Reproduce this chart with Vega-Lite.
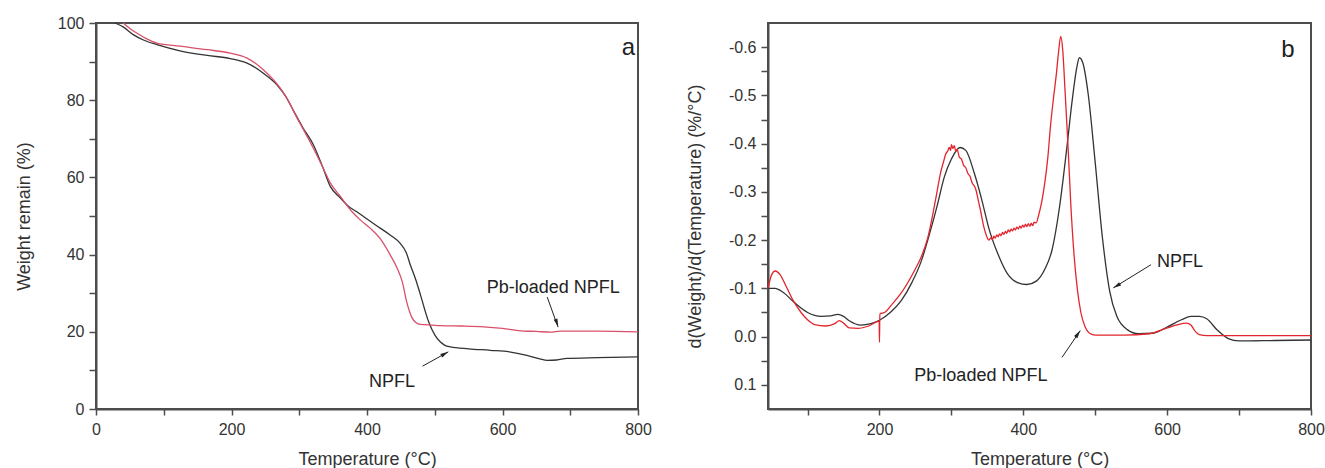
{
  "$schema": "https://vega.github.io/schema/vega-lite/v6.json",
  "padding": {"left": 14, "top": 14, "right": 0, "bottom": 0},
  "spacing": 32,
  "config": {
    "font": "Liberation Sans",
    "view": {"stroke": "#4d4d4d", "strokeWidth": 2},
    "axis": {"grid": false, "domainColor": "#4d4d4d", "domainWidth": 2, "tickColor": "#4d4d4d", "tickWidth": 1.5, "tickSize": 6, "labelFontSize": 16, "labelColor": "#333333", "titleFontSize": 18, "titleFontWeight": "normal", "titleColor": "#333333", "labelFlush": false, "labelOverlap": false, "labelPadding": 6},
    "axisY": {"tickSize": 7, "titlePadding": 24, "labelPadding": 5},
    "axisX": {"titlePadding": 13}
  },
  "datasets": {
    "tga_npfl": [
      {"temperature": 28, "value": 100}, {"temperature": 40, "value": 99.0}, {"temperature": 55, "value": 97.0}, {"temperature": 70, "value": 95.6}, {"temperature": 90, "value": 94.4}, {"temperature": 124, "value": 92.8}, {"temperature": 164, "value": 91.6}, {"temperature": 198, "value": 90.8}, {"temperature": 223, "value": 89.6}, {"temperature": 247, "value": 87.0}, {"temperature": 267, "value": 84.0}, {"temperature": 280, "value": 81.0}, {"temperature": 292, "value": 77.1}, {"temperature": 305, "value": 73.0}, {"temperature": 321, "value": 68.4}, {"temperature": 335, "value": 62.5}, {"temperature": 346, "value": 57.6}, {"temperature": 360, "value": 54.8}, {"temperature": 372, "value": 52.6}, {"temperature": 385, "value": 51.1}, {"temperature": 400, "value": 49.2}, {"temperature": 420, "value": 46.8}, {"temperature": 434, "value": 45.1}, {"temperature": 449, "value": 42.9}, {"temperature": 458, "value": 40.5}, {"temperature": 464, "value": 37.3}, {"temperature": 472, "value": 33.5}, {"temperature": 479, "value": 29.5}, {"temperature": 491, "value": 22.6}, {"temperature": 500, "value": 19.2}, {"temperature": 508, "value": 17.4}, {"temperature": 515, "value": 16.5}, {"temperature": 523, "value": 16.1}, {"temperature": 550, "value": 15.6}, {"temperature": 582, "value": 15.2}, {"temperature": 610, "value": 14.8}, {"temperature": 636, "value": 13.9}, {"temperature": 655, "value": 13.0}, {"temperature": 666, "value": 12.6}, {"temperature": 680, "value": 12.7}, {"temperature": 695, "value": 13.1}, {"temperature": 740, "value": 13.3}, {"temperature": 800, "value": 13.5}
    ],
    "tga_pb": [
      {"temperature": 40, "value": 100}, {"temperature": 50, "value": 98.6}, {"temperature": 60, "value": 97.4}, {"temperature": 75, "value": 95.9}, {"temperature": 90, "value": 94.8}, {"temperature": 124, "value": 94.0}, {"temperature": 164, "value": 93.1}, {"temperature": 198, "value": 92.2}, {"temperature": 223, "value": 90.9}, {"temperature": 247, "value": 87.9}, {"temperature": 272, "value": 83.1}, {"temperature": 285, "value": 79.5}, {"temperature": 295, "value": 76.0}, {"temperature": 308, "value": 71.8}, {"temperature": 321, "value": 67.5}, {"temperature": 335, "value": 62.5}, {"temperature": 346, "value": 58.5}, {"temperature": 361, "value": 55.0}, {"temperature": 378, "value": 51.1}, {"temperature": 390, "value": 49.0}, {"temperature": 405, "value": 46.8}, {"temperature": 420, "value": 44.0}, {"temperature": 434, "value": 40.0}, {"temperature": 445, "value": 36.3}, {"temperature": 452, "value": 33.0}, {"temperature": 459, "value": 27.5}, {"temperature": 466, "value": 23.8}, {"temperature": 472, "value": 22.4}, {"temperature": 479, "value": 21.9}, {"temperature": 508, "value": 21.6}, {"temperature": 540, "value": 21.5}, {"temperature": 572, "value": 21.3}, {"temperature": 600, "value": 20.9}, {"temperature": 631, "value": 20.2}, {"temperature": 650, "value": 20.1}, {"temperature": 671, "value": 19.9}, {"temperature": 685, "value": 20.2}, {"temperature": 740, "value": 20.2}, {"temperature": 800, "value": 20.0}
    ],
    "dtg_npfl": [
      {"temperature": 45, "value": -0.100}, {"temperature": 55, "value": -0.100}, {"temperature": 65, "value": -0.093}, {"temperature": 82, "value": -0.070}, {"temperature": 100, "value": -0.050}, {"temperature": 119, "value": -0.042}, {"temperature": 132, "value": -0.043}, {"temperature": 142, "value": -0.046}, {"temperature": 150, "value": -0.042}, {"temperature": 158, "value": -0.033}, {"temperature": 174, "value": -0.024}, {"temperature": 188, "value": -0.027}, {"temperature": 200, "value": -0.034}, {"temperature": 215, "value": -0.050}, {"temperature": 230, "value": -0.074}, {"temperature": 245, "value": -0.112}, {"temperature": 258, "value": -0.156}, {"temperature": 270, "value": -0.215}, {"temperature": 280, "value": -0.270}, {"temperature": 290, "value": -0.330}, {"temperature": 300, "value": -0.368}, {"temperature": 312, "value": -0.392}, {"temperature": 320, "value": -0.386}, {"temperature": 332, "value": -0.338}, {"temperature": 342, "value": -0.285}, {"temperature": 352, "value": -0.225}, {"temperature": 365, "value": -0.170}, {"temperature": 378, "value": -0.130}, {"temperature": 392, "value": -0.112}, {"temperature": 405, "value": -0.108}, {"temperature": 418, "value": -0.115}, {"temperature": 430, "value": -0.140}, {"temperature": 440, "value": -0.180}, {"temperature": 450, "value": -0.265}, {"temperature": 460, "value": -0.385}, {"temperature": 468, "value": -0.490}, {"temperature": 474, "value": -0.555}, {"temperature": 478, "value": -0.578}, {"temperature": 483, "value": -0.566}, {"temperature": 490, "value": -0.505}, {"temperature": 500, "value": -0.360}, {"temperature": 510, "value": -0.205}, {"temperature": 520, "value": -0.095}, {"temperature": 530, "value": -0.042}, {"temperature": 545, "value": -0.014}, {"temperature": 560, "value": -0.006}, {"temperature": 580, "value": -0.007}, {"temperature": 600, "value": -0.020}, {"temperature": 620, "value": -0.035}, {"temperature": 633, "value": -0.042}, {"temperature": 645, "value": -0.042}, {"temperature": 655, "value": -0.037}, {"temperature": 670, "value": -0.013}, {"temperature": 685, "value": 0.004}, {"temperature": 700, "value": 0.009}, {"temperature": 750, "value": 0.008}, {"temperature": 800, "value": 0.007}
    ],
    "dtg_pb": [
      {"temperature": 45, "value": -0.100}, {"temperature": 50, "value": -0.128}, {"temperature": 55, "value": -0.136}, {"temperature": 62, "value": -0.128}, {"temperature": 70, "value": -0.105}, {"temperature": 80, "value": -0.075}, {"temperature": 91, "value": -0.050}, {"temperature": 100, "value": -0.035}, {"temperature": 110, "value": -0.025}, {"temperature": 125, "value": -0.022}, {"temperature": 138, "value": -0.027}, {"temperature": 144, "value": -0.033}, {"temperature": 150, "value": -0.028}, {"temperature": 158, "value": -0.018}, {"temperature": 170, "value": -0.017}, {"temperature": 185, "value": -0.022}, {"temperature": 199.5, "value": -0.032}, {"temperature": 200, "value": 0.012}, {"temperature": 200.5, "value": -0.047}, {"temperature": 207, "value": -0.050}, {"temperature": 218, "value": -0.068}, {"temperature": 230, "value": -0.090}, {"temperature": 248, "value": -0.135}, {"temperature": 258, "value": -0.165}, {"temperature": 267, "value": -0.204}, {"temperature": 275, "value": -0.260}, {"temperature": 280, "value": -0.300}, {"temperature": 285, "value": -0.340}, {"temperature": 289, "value": -0.362}, {"temperature": 292, "value": -0.378}, {"temperature": 295, "value": -0.385}, {"temperature": 297, "value": -0.392}, {"temperature": 299, "value": -0.386}, {"temperature": 300, "value": -0.398}, {"temperature": 302, "value": -0.390}, {"temperature": 304, "value": -0.396}, {"temperature": 306, "value": -0.384}, {"temperature": 308, "value": -0.388}, {"temperature": 311, "value": -0.372}, {"temperature": 314, "value": -0.368}, {"temperature": 317, "value": -0.355}, {"temperature": 320, "value": -0.350}, {"temperature": 323, "value": -0.338}, {"temperature": 326, "value": -0.332}, {"temperature": 329, "value": -0.318}, {"temperature": 331, "value": -0.314}, {"temperature": 334, "value": -0.305}, {"temperature": 337, "value": -0.285}, {"temperature": 340, "value": -0.265}, {"temperature": 345, "value": -0.228}, {"temperature": 349, "value": -0.208}, {"temperature": 352, "value": -0.200}, {"temperature": 355, "value": -0.205}, {"temperature": 357, "value": -0.201}, {"temperature": 359, "value": -0.208}, {"temperature": 361, "value": -0.204}, {"temperature": 363, "value": -0.211}, {"temperature": 365, "value": -0.207}, {"temperature": 367, "value": -0.213}, {"temperature": 369, "value": -0.209}, {"temperature": 371, "value": -0.216}, {"temperature": 373, "value": -0.212}, {"temperature": 375, "value": -0.218}, {"temperature": 377, "value": -0.214}, {"temperature": 379, "value": -0.221}, {"temperature": 381, "value": -0.217}, {"temperature": 383, "value": -0.223}, {"temperature": 385, "value": -0.219}, {"temperature": 387, "value": -0.225}, {"temperature": 389, "value": -0.221}, {"temperature": 391, "value": -0.227}, {"temperature": 393, "value": -0.223}, {"temperature": 395, "value": -0.229}, {"temperature": 397, "value": -0.225}, {"temperature": 399, "value": -0.231}, {"temperature": 401, "value": -0.227}, {"temperature": 403, "value": -0.233}, {"temperature": 405, "value": -0.228}, {"temperature": 407, "value": -0.234}, {"temperature": 409, "value": -0.229}, {"temperature": 411, "value": -0.235}, {"temperature": 413, "value": -0.230}, {"temperature": 415, "value": -0.237}, {"temperature": 418, "value": -0.236}, {"temperature": 421, "value": -0.250}, {"temperature": 425, "value": -0.275}, {"temperature": 429, "value": -0.310}, {"temperature": 434, "value": -0.370}, {"temperature": 438, "value": -0.440}, {"temperature": 442, "value": -0.495}, {"temperature": 446, "value": -0.545}, {"temperature": 449, "value": -0.590}, {"temperature": 452, "value": -0.622}, {"temperature": 455, "value": -0.590}, {"temperature": 458, "value": -0.510}, {"temperature": 462, "value": -0.400}, {"temperature": 466, "value": -0.275}, {"temperature": 470, "value": -0.180}, {"temperature": 475, "value": -0.100}, {"temperature": 480, "value": -0.050}, {"temperature": 486, "value": -0.020}, {"temperature": 492, "value": -0.007}, {"temperature": 500, "value": -0.003}, {"temperature": 540, "value": -0.003}, {"temperature": 575, "value": -0.006}, {"temperature": 600, "value": -0.018}, {"temperature": 615, "value": -0.025}, {"temperature": 627, "value": -0.028}, {"temperature": 633, "value": -0.024}, {"temperature": 638, "value": -0.013}, {"temperature": 645, "value": -0.004}, {"temperature": 655, "value": -0.002}, {"temperature": 700, "value": -0.002}, {"temperature": 800, "value": -0.002}
    ],
    "tga_notes": [
      {"temperature": 675, "value": 31.3, "label": "Pb-loaded NPFL"},
      {"temperature": 437, "value": 7.0, "label": "NPFL"}
    ],
    "tga_tag": [{"temperature": 786, "value": 93.4, "label": "a"}],
    "tga_arrows": [
      {"temperature": 666, "value": 29.0, "temperature2": 682, "value2": 21.2},
      {"temperature": 482, "value": 11.1, "temperature2": 520, "value2": 14.8}
    ],
    "tga_head_pb": [{"temperature": 680.3, "value": 22.3}],
    "tga_head_npfl": [{"temperature": 514.8, "value": 14.3}],
    "dtg_notes": [
      {"temperature": 618, "value": -0.155, "label": "NPFL"},
      {"temperature": 341, "value": 0.081, "label": "Pb-loaded NPFL"}
    ],
    "dtg_tag": [{"temperature": 768, "value": -0.595, "label": "b"}],
    "dtg_arrows": [
      {"temperature": 577.5, "value": -0.149, "temperature2": 525.1, "value2": -0.101},
      {"temperature": 453.8, "value": 0.043, "temperature2": 479.2, "value2": -0.0125}
    ],
    "dtg_head_npfl": [{"temperature": 529.8, "value": -0.105}],
    "dtg_head_pb": [{"temperature": 476, "value": -0.0056}]
  },
  "hconcat": [
    {
      "width": 542,
      "height": 386,
      "encoding": {
        "x": {"field": "temperature", "type": "quantitative", "scale": {"domain": [0, 800], "nice": false, "zero": false},
          "axis": {"title": "Temperature (°C)", "values": [0, 100, 200, 300, 400, 500, 600, 700, 800], "labelExpr": "datum.value % 200 === 0 ? datum.label : ''"}},
        "y": {"field": "value", "type": "quantitative", "scale": {"domain": [0, 100], "nice": false},
          "axis": {"title": "Weight remain (%)", "values": [0, 10, 20, 30, 40, 50, 60, 70, 80, 90, 100], "labelExpr": "datum.value % 20 === 0 ? datum.label : ''"}}
      },
      "layer": [
        {"data": {"name": "tga_npfl"}, "mark": {"type": "line", "color": "#333333", "strokeWidth": 1.3, "interpolate": "monotone"}, "encoding": {}},
        {"data": {"name": "tga_pb"}, "mark": {"type": "line", "color": "#d9506a", "strokeWidth": 1.3, "interpolate": "monotone"}, "encoding": {}},
        {"data": {"name": "tga_arrows"}, "mark": {"type": "rule", "color": "#222222", "strokeWidth": 1}, "encoding": {"x2": {"field": "temperature2"}, "y2": {"field": "value2"}}},
        {"data": {"name": "tga_head_pb"}, "mark": {"type": "point", "shape": "M0,-1L0.5,1L-0.5,1Z", "size": 64, "filled": true, "opacity": 1, "color": "#222222", "angle": 160}, "encoding": {}},
        {"data": {"name": "tga_head_npfl"}, "mark": {"type": "point", "shape": "M0,-1L0.5,1L-0.5,1Z", "size": 64, "filled": true, "opacity": 1, "color": "#222222", "angle": 60}, "encoding": {}},
        {"data": {"name": "tga_notes"}, "mark": {"type": "text", "fontSize": 18, "color": "#222222", "baseline": "middle", "align": "center"}, "encoding": {"text": {"field": "label"}}},
        {"data": {"name": "tga_tag"}, "mark": {"type": "text", "fontSize": 24, "color": "#222222", "baseline": "middle", "align": "center"}, "encoding": {"text": {"field": "label"}}}
      ]
    },
    {
      "width": 543,
      "height": 386,
      "encoding": {
        "x": {"field": "temperature", "type": "quantitative", "scale": {"domain": [45, 800], "nice": false, "zero": false},
          "axis": {"title": "Temperature (°C)", "values": [100, 200, 300, 400, 500, 600, 700, 800], "labelExpr": "datum.value % 200 === 0 ? datum.label : ''"}},
        "y": {"field": "value", "type": "quantitative", "scale": {"domain": [-0.65, 0.15], "nice": false, "zero": false, "reverse": true},
          "axis": {"title": "d(Weight)/d(Temperature) (%/°C)", "values": [-0.6, -0.55, -0.5, -0.45, -0.4, -0.35, -0.3, -0.25, -0.2, -0.15, -0.1, -0.05, 0, 0.05, 0.1],
            "labelExpr": "abs(round(datum.value * 100)) % 10 === 0 ? (datum.value < -0.001 ? '-' : '') + format(abs(datum.value), '.1f') : ''"}}
      },
      "layer": [
        {"data": {"name": "dtg_npfl"}, "mark": {"type": "line", "color": "#333333", "strokeWidth": 1.3, "interpolate": "monotone"}, "encoding": {}},
        {"data": {"name": "dtg_pb"}, "mark": {"type": "line", "color": "#e3262e", "strokeWidth": 1.3, "interpolate": "monotone"}, "encoding": {}},
        {"data": {"name": "dtg_arrows"}, "mark": {"type": "rule", "color": "#222222", "strokeWidth": 1}, "encoding": {"x2": {"field": "temperature2"}, "y2": {"field": "value2"}}},
        {"data": {"name": "dtg_head_npfl"}, "mark": {"type": "point", "shape": "M0,-1L0.5,1L-0.5,1Z", "size": 64, "filled": true, "opacity": 1, "color": "#222222", "angle": 238}, "encoding": {}},
        {"data": {"name": "dtg_head_pb"}, "mark": {"type": "point", "shape": "M0,-1L0.5,1L-0.5,1Z", "size": 64, "filled": true, "opacity": 1, "color": "#222222", "angle": 34}, "encoding": {}},
        {"data": {"name": "dtg_notes"}, "mark": {"type": "text", "fontSize": 18, "color": "#222222", "baseline": "middle", "align": "center"}, "encoding": {"text": {"field": "label"}}},
        {"data": {"name": "dtg_tag"}, "mark": {"type": "text", "fontSize": 24, "color": "#222222", "baseline": "middle", "align": "center"}, "encoding": {"text": {"field": "label"}}}
      ]
    }
  ]
}
